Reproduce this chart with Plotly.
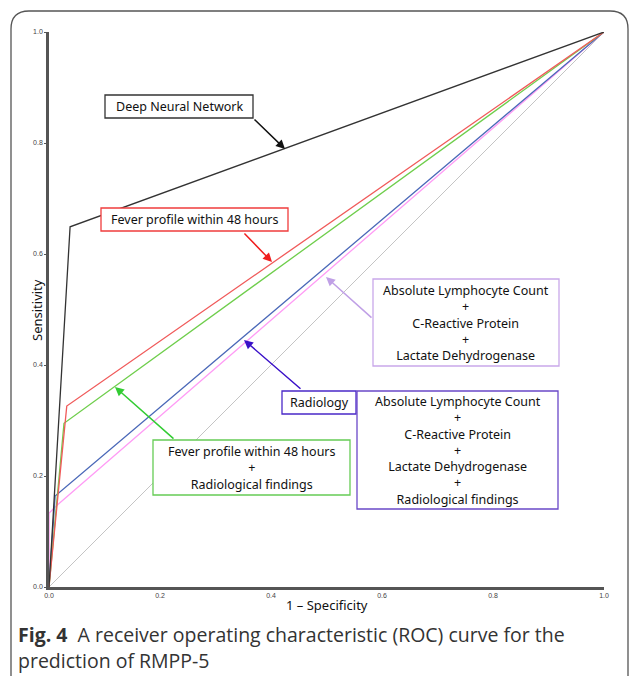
import plotly.graph_objects as go

# ---- data ----
dnn_x = [0.0, 0.038, 1.0]
dnn_y = [0.0, 0.649, 1.0]
fever_x = [0.0, 0.032, 1.0]
fever_y = [0.0, 0.326, 1.0]
fever_rad_x = [0.0, 0.027, 1.0]
fever_rad_y = [0.0, 0.295, 1.0]
radiology_x = [0.0, 0.011, 1.0]
radiology_y = [0.0, 0.164, 1.0]
alc_crp_ldh_x = [0.0, 0.0, 0.014, 1.0]
alc_crp_ldh_y = [0.0, 0.133, 0.147, 1.0]
ref_x = [0.0, 1.0]
ref_y = [0.0, 1.0]

tick_vals = [0.0, 0.2, 0.4, 0.6, 0.8, 1.0]
tick_text = ["0.0", "0.2", "0.4", "0.6", "0.8", "1.0"]

series = [
    ("Reference", ref_x, ref_y, "#c4c4c4", 1.0),
    ("ALC + CRP + LDH", alc_crp_ldh_x, alc_crp_ldh_y, "#ff9cf5", 1.3),
    ("Radiology", radiology_x, radiology_y, "#4a68b8", 1.3),
    ("Fever profile + Radiological findings", fever_rad_x, fever_rad_y, "#6fce4c", 1.3),
    ("Fever profile within 48 hours", fever_x, fever_y, "#f05a5a", 1.3),
    ("Deep Neural Network", dnn_x, dnn_y, "#333333", 1.3),
]

fig = go.Figure()
for name, xs, ys, col, w in series:
    fig.add_trace(go.Scatter(x=xs, y=ys, mode="lines", name=name,
                             line=dict(color=col, width=w), showlegend=False,
                             hoverinfo="skip"))

TXT = dict(family="Noto Sans", size=12.5, color="#111111")

def px(xp):
    return (xp - 49) / 555.0

def py(yp):
    return (587 - yp) / 555.0

boxes = [
    ("Deep Neural Network", 105, 253, 95, 118, "#333333"),
    ("Fever profile within 48 hours", 101, 288, 208, 231, "#f03c3c"),
    ("Fever profile within 48 hours<br>+<br>Radiological findings", 153, 350, 440, 495, "#66cc55"),
    ("Radiology", 282, 356, 391, 414, "#4a28c8"),
    ("Absolute Lymphocyte Count<br>+<br>C-Reactive Protein<br>+<br>Lactate Dehydrogenase", 373, 559, 279, 366, "#c9a8ea"),
    ("Absolute Lymphocyte Count<br>+<br>C-Reactive Protein<br>+<br>Lactate Dehydrogenase<br>+<br>Radiological findings", 357, 558, 391, 509, "#6a48c8"),
]
shapes = []
for text, x0, x1, y0, y1, col in boxes:
    shapes.append(dict(type="rect", xref="x", yref="y", x0=px(x0), x1=px(x1),
                       y0=py(y1), y1=py(y0), line=dict(color=col, width=1.3),
                       fillcolor="white", layer="above"))

annotations = []
for text, x0, x1, y0, y1, col in boxes:
    annotations.append(dict(x=(px(x0) + px(x1)) / 2, y=(py(y0) + py(y1)) / 2,
                            xref="x", yref="y", text=text, showarrow=False,
                            font=TXT, align="center", xanchor="center", yanchor="middle"))

arrows = [
    (253, 118, 285, 149, "#111111"),
    (243, 232, 272, 262, "#f01e1e"),
    (175, 440, 115, 387, "#33cc33"),
    (302, 390, 244, 340, "#3a10c8"),
    (373, 319, 326, 277, "#c0a0e6"),
]
for tx, ty, hx, hy, col in arrows:
    annotations.append(dict(x=px(hx), y=py(hy), ax=px(tx), ay=py(ty),
                            xref="x", yref="y", axref="x", ayref="y", text="",
                            showarrow=True, arrowhead=2, arrowsize=1.2,
                            arrowwidth=1.5, arrowcolor=col))

# axis titles
AX = dict(family="Noto Sans", size=13, color="#111111")
annotations.append(dict(x=px(327), y=py(605), xref="paper", yref="paper",
                        text="1 – Specificity", showarrow=False,
                        xanchor="center", yanchor="middle", font=AX))
annotations.append(dict(x=px(37), y=py(310), xref="paper", yref="paper",
                        text="Sensitivity", showarrow=False, textangle=-90,
                        xanchor="center", yanchor="middle", font=AX))

CAP = dict(family="Open Sans", size=19.5, color="#333333")
annotations.append(dict(x=px(16), y=py(634), xref="paper", yref="paper",
                        text="<b>Fig. 4</b>  A receiver operating characteristic (ROC) curve for the",
                        showarrow=False, xanchor="left", yanchor="middle", font=CAP))
annotations.append(dict(x=px(16), y=py(660), xref="paper", yref="paper",
                        text="prediction of RMPP-5",
                        showarrow=False, xanchor="left", yanchor="middle", font=CAP))

L, R, T, B = px(11), px(628), py(11), py(694)
rx, ry = 18 / 555.0, 18 / 555.0
path = (f"M {L},{B+ry} L {L},{T-ry} Q {L},{T} {L+rx},{T} L {R-rx},{T} "
        f"Q {R},{T} {R},{T-ry} L {R},{B+ry} Q {R},{B} {R-rx},{B} L {L+rx},{B} Q {L},{B} {L},{B+ry} Z")
shapes.append(dict(type="path", xref="paper", yref="paper", path=path,
                   line=dict(color="#555555", width=1.3), layer="below"))

fig.update_layout(
    width=630, height=676,
    margin=dict(l=49, r=26, t=32, b=89, autoexpand=False),
    paper_bgcolor="white", plot_bgcolor="white",
    shapes=shapes, annotations=annotations,
    xaxis=dict(range=[0, 1], tickvals=tick_vals, ticktext=tick_text, automargin=False,
               showgrid=False, zeroline=False, showline=True, linecolor="#555555",
               linewidth=2.5, ticks="",
               tickfont=dict(family="Liberation Sans", size=7, color="#444444")),
    yaxis=dict(range=[0, 1], tickvals=tick_vals, ticktext=tick_text, automargin=False,
               showgrid=False, zeroline=False, showline=True, linecolor="#555555",
               linewidth=2.5, ticks="outside", ticklen=2, tickcolor="#555555",
               tickfont=dict(family="Liberation Sans", size=7, color="#444444")),
)

fig.write_html("out.html", config={"displayModeBar": False},
               post_script="document.body.style.margin='0';document.body.style.overflow='hidden';")
